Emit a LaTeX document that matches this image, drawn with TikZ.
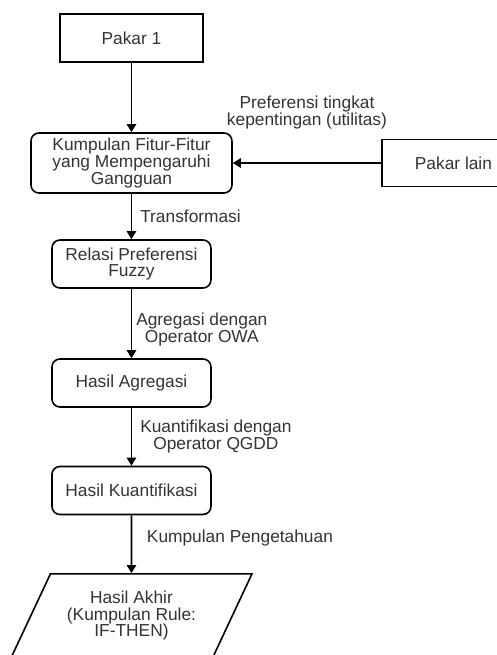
\documentclass[tikz,border=0pt]{standalone}
\usepackage{fontspec}
\setmainfont{Liberation Sans}
\usetikzlibrary{arrows.meta,shapes.geometric}

\begin{document}
\begin{tikzpicture}[
    font=\fontsize{13pt}{12.4pt}\selectfont,
    text=black!80,
    box/.style={draw, line width=1.2pt, minimum width=107.25pt, minimum height=36pt, inner sep=2pt, align=center},
    rbox/.style={box, rounded corners=6pt, minimum width=119.25pt},
    arrow/.style={-{Triangle[width=7pt,length=6pt]}, line width=1.2pt},
    lbl/.style={align=center, inner sep=0pt}
]
    \useasboundingbox (0,0) rectangle (372pt,-491.25pt);
    \node[box] (1) at (98.6pt,-28.5pt) {Pakar 1};
    \node[rbox, below of=1, node distance=93.75pt, minimum width=150.75pt, minimum height=45pt] (2) {Kumpulan Fitur-Fitur\\yang Mempengaruhi\\Gangguan};
    \node[box, right of=2, node distance=241.5pt, minimum height=35pt] (3) {Pakar lain};
    \node[rbox, below of=2, node distance=75.75pt] (4) {Relasi Preferensi\\Fuzzy};
    \node[rbox, below of=4, node distance=89.25pt] (5) {Hasil Agregasi};
    \node[rbox, below of=5, node distance=80.6pt] (6) {Hasil Kuantifikasi};
    \node[draw, line width=1.2pt, trapezium, trapezium left angle=60, trapezium right angle=120,
          trapezium stretches=true, minimum width=180.75pt, minimum height=63pt, align=center,
          below of=6, node distance=94.1pt] (7) {Hasil Akhir\\(Kumpulan Rule:\\IF-THEN)};
    \draw[arrow]
    (1) edge (2)
    (3) edge node[lbl, midway, above=25pt] {Preferensi tingkat\\kepentingan (utilitas)} (2)
    (2) edge node[lbl, midway, right=6pt] {Transformasi} (4)
    (4) edge node[lbl, pos=0.59, right=3pt] {Agregasi dengan\\Operator OWA} (5)
    (5) edge node[lbl, midway, right=6pt] {Kuantifikasi dengan\\Operator QGDD} (6)
    (6) edge node[lbl, pos=0.4, right=11pt] {Kumpulan Pengetahuan} (7);
\end{tikzpicture}
\end{document}
